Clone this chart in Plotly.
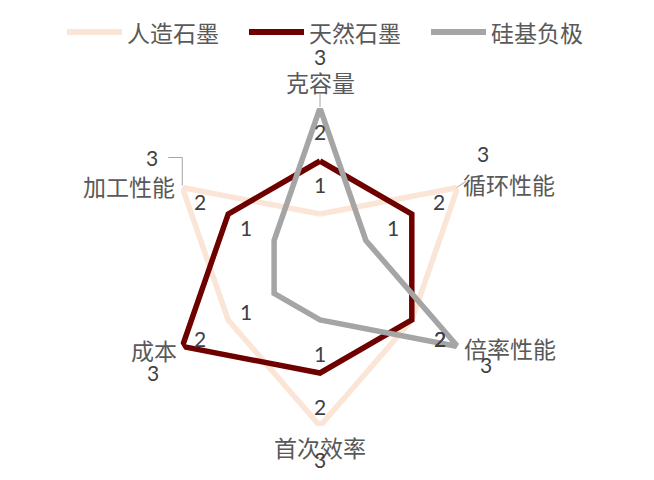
import numpy as np
import plotly.graph_objects as go

categories = ['克容量', '循环性能', '倍率性能', '首次效率', '成本', '加工性能']
series_names = ['人造石墨', '天然石墨', '硅基负极']
artificial = [1, 3, 2, 3, 2, 3]
natural = [2, 2, 2, 2, 3, 2]
silicon = [3, 1, 3, 1, 1, 1]
series_vals = [artificial, natural, silicon]
colors = ['#FBE5D6', '#6E0000', '#A5A5A5']

# page body has an 8px margin, so the figure sits at (8, 8) in the 654x480 window
PAD = 8
W, H = 654 - 2 * PAD, 480 - 2 * PAD
CX, CY = 320 - PAD, 267 - PAD   # centre of the radar, px in figure
R_MAX = 3
R_PX = 159                      # px for R_MAX
UNIT = R_PX / R_MAX
CJK = 'Noto Sans CJK SC'
TXT, NUM = '#595959', '#404040'

angles = [i * 360 / len(categories) for i in range(len(categories))]

# data label offset per axis (px, screen coords), like excel puts them
LBL_OFF = [(0, -30), (27, -13), (28, 18), (0, 33), (-28, 18), (-28, -13)]
# labels that were dragged somewhere else in the original
LBL_MOVED = {(2, 0): (0, -52), (0, 1): (25, -34), (0, 5): (-30, -30), (1, 4): (-29, 26)}
# leader lines for dragged labels: (series, axis) -> px path from the point
LEADERS = {(2, 0): [(0, -1), (0, -14)], (0, 1): [(-1, 0), (8, -6)],
           (0, 5): [(0, -2), (0, -30), (-14, -30)]}
# category label: offset from the rim point and anchor
CAT_OFF = [(0, -26, 'center'), (3, -4, 'left'), (4, 1, 'left'),
           (0, 21, 'center'), (-3, 3, 'right'), (-5, -2, 'right')]


def xy(r, th, dx=0, dy=0):
    # value on an axis -> overlay coords (same unit as the radar), plus a px nudge
    a = np.radians(th)
    return float(r * np.sin(a) + dx / UNIT), float(r * np.cos(a) - dy / UNIT)


fig = go.Figure()
for name, vals, col in zip(series_names, series_vals, colors):
    fig.add_scatterpolar(r=vals + vals[:1], theta=angles + angles[:1], mode='lines',
                         line=dict(color=col, width=5.5), name=name, showlegend=False,
                         hoverinfo='skip')

# text sits in annotations on a hidden cartesian overlay lined up with the radar centre,
# so it draws above the lines
for cat, a, (dx, dy, anchor) in zip(categories, angles, CAT_OFF):
    x, y = xy(R_MAX, a, dx, dy)
    fig.add_annotation(x=x, y=y, xref='x', yref='y', text=cat, showarrow=False,
                       xanchor=anchor, yanchor='middle', font=dict(family=CJK, size=23, color=TXT))

for s, vals in enumerate(series_vals):
    for i, v in enumerate(vals):
        dx, dy = LBL_MOVED.get((s, i), LBL_OFF[i])
        x, y = xy(v, angles[i], dx, dy)
        fig.add_annotation(x=x, y=y, xref='x', yref='y', text=str(v), showarrow=False,
                           xanchor='center', yanchor='middle',
                           font=dict(family='Lato, ' + CJK, size=21, color=NUM))
        if (s, i) in LEADERS:
            path = [xy(v, angles[i], ox, oy) for ox, oy in LEADERS[(s, i)]]
            d = 'M' + ' L'.join(f'{px},{py}' for px, py in path)
            fig.add_shape(type='path', path=d, xref='x', yref='y', layer='above',
                          line=dict(color='#A6A6A6', width=1))

# legend drawn by hand (longer line samples than plotly's)
LEG_X = [67, 249, 431]
LEG_Y = 32
for name, col, x in zip(series_names, colors, LEG_X):
    fig.add_shape(type='line', xref='paper', yref='paper', x0=(x - PAD) / W, x1=(x + 55 - PAD) / W,
                  y0=1 - (LEG_Y - PAD) / H, y1=1 - (LEG_Y - PAD) / H, line=dict(color=col, width=6))
    fig.add_annotation(xref='paper', yref='paper', x=(x + 58 - PAD) / W, y=1 - (LEG_Y - PAD) / H,
                       text=name, showarrow=False, xanchor='left', yanchor='middle',
                       font=dict(family=CJK, size=23, color=TXT))

hidden = dict(visible=False, showgrid=False, zeroline=False, domain=[0, 1], fixedrange=True)
fig.update_layout(
    width=W, height=H, margin=dict(l=0, r=0, t=0, b=0),
    paper_bgcolor='white', plot_bgcolor='rgba(0,0,0,0)', showlegend=False,
    xaxis=dict(range=[-CX / UNIT, (W - CX) / UNIT], **hidden),
    yaxis=dict(range=[-(H - CY) / UNIT, CY / UNIT], **hidden),
    polar=dict(
        bgcolor='rgba(0,0,0,0)',
        domain=dict(x=[(CX - R_PX) / W, (CX + R_PX) / W],
                    y=[(H - CY - R_PX) / H, (H - CY + R_PX) / H]),
        radialaxis=dict(range=[0, R_MAX], visible=False, showgrid=False),
        angularaxis=dict(direction='clockwise', rotation=90, thetaunit='degrees',
                         tickmode='array', tickvals=angles, showticklabels=False,
                         showgrid=False, showline=False, ticks=''),
    ),
)
fig.write_html('out.html')
